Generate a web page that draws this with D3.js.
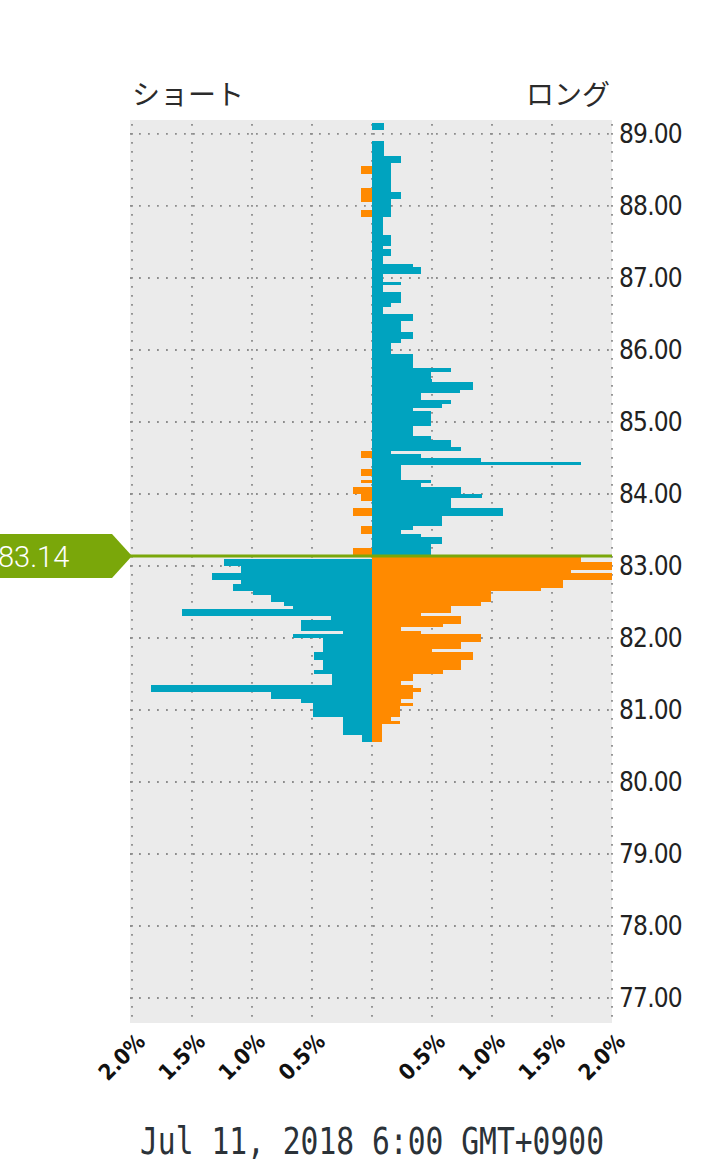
<!DOCTYPE html>
<html>
<head>
<meta charset="utf-8">
<script src="https://cdn.jsdelivr.net/npm/d3@7/dist/d3.min.js"></script>
<style>
  html, body { margin: 0; padding: 0; background: #fff; }
  svg { display: block; }
</style>
</head>
<body>
<script>
'use strict';

// order book buckets (lower bound of each 0.05 bucket), top to bottom
const prices = [
  89.10, 89.05, 89.00, 88.95, 88.90, 88.85, 88.80, 88.75, 88.70, 88.65,
  88.60, 88.55, 88.50, 88.45, 88.40, 88.35, 88.30, 88.25, 88.20, 88.15,
  88.10, 88.05, 88.00, 87.95, 87.90, 87.85, 87.80, 87.75, 87.70, 87.65,
  87.60, 87.55, 87.50, 87.45, 87.40, 87.35, 87.30, 87.25, 87.20, 87.15,
  87.10, 87.05, 87.00, 86.95, 86.90, 86.85, 86.80, 86.75, 86.70, 86.65,
  86.60, 86.55, 86.50, 86.45, 86.40, 86.35, 86.30, 86.25, 86.20, 86.15,
  86.10, 86.05, 86.00, 85.95, 85.90, 85.85, 85.80, 85.75, 85.70, 85.65,
  85.60, 85.55, 85.50, 85.45, 85.40, 85.35, 85.30, 85.25, 85.20, 85.15,
  85.10, 85.05, 85.00, 84.95, 84.90, 84.85, 84.80, 84.75, 84.70, 84.65,
  84.60, 84.55, 84.50, 84.45, 84.40, 84.35, 84.30, 84.25, 84.20, 84.15,
  84.10, 84.05, 84.00, 83.95, 83.90, 83.85, 83.80, 83.75, 83.70, 83.65,
  83.60, 83.55, 83.50, 83.45, 83.40, 83.35, 83.30, 83.25, 83.20, 83.15,
  83.10, 83.05, 83.00, 82.95, 82.90, 82.85, 82.80, 82.75, 82.70, 82.65,
  82.60, 82.55, 82.50, 82.45, 82.40, 82.35, 82.30, 82.25, 82.20, 82.15,
  82.10, 82.05, 82.00, 81.95, 81.90, 81.85, 81.80, 81.75, 81.70, 81.65,
  81.60, 81.55, 81.50, 81.45, 81.40, 81.35, 81.30, 81.25, 81.20, 81.15,
  81.10, 81.05, 81.00, 80.95, 80.90, 80.85, 80.80, 80.75, 80.70, 80.65,
  80.60, 80.55
];

// % of positions on the short side (drawn to the left)
const shortPct = [
  0, 0, 0, 0, 0, 0, 0, 0, 0, 0,
  0, 0, .09, .09, 0, 0, 0, 0, .09, .09,
  .09, .09, 0, 0, .09, .09, 0, 0, 0, 0,
  0, 0, 0, 0, 0, 0, 0, 0, 0, 0,
  0, 0, 0, 0, 0, 0, 0, 0, 0, 0,
  0, 0, 0, 0, 0, 0, 0, 0, 0, 0,
  0, 0, 0, 0, 0, 0, 0, 0, 0, 0,
  0, 0, 0, 0, 0, 0, 0, 0, 0, 0,
  0, 0, 0, 0, 0, 0, 0, 0, 0, 0,
  0, .09, .09, 0, 0, 0, .09, .09, 0, .09,
  0, .16, .16, .09, .09, 0, 0, .16, .16, 0,
  0, 0, .09, .09, 0, 0, 0, 0, .16, .16,
  0, 1.23, 1.23, 1.09, 1.09, 1.33, 1.33, 1.09, 1.16, 1.16,
  .99, .84, .84, .73, .66, 1.58, 1.58, .34, .59, .59,
  .59, .24, .66, .41, .41, .41, .41, .48, .48, .41,
  .41, .41, .48, .33, .33, .33, 1.84, 1.84, .84, .84,
  .59, .49, .49, .49, .49, .24, .24, .24, .24, .24,
  .08, .08
];

// % of positions on the long side (drawn to the right)
const longPct = [
  .10, .10, 0, 0, 0, .10, .10, .10, .10, .24,
  .24, .16, .16, .16, .16, .16, .16, .16, .16, .24,
  .24, .16, .16, .16, .16, .16, .09, .09, .09, .09,
  .09, .16, .16, .16, .09, .16, .16, .09, .09, .34,
  .41, .41, .09, .09, .24, .09, .09, .24, .24, .24,
  .16, .09, .09, .34, .34, .24, .24, .24, .34, .34,
  .24, .16, .16, .16, .34, .34, .34, .34, .66, .49,
  .49, .50, .84, .84, .73, .41, .41, .66, .58, .34,
  .49, .49, .49, .49, .34, .34, .34, .49, .66, .66,
  .74, .16, .41, .91, 1.74, .24, .24, .24, .24, .49,
  .41, .74, .74, .92, .66, .66, .66, 1.09, 1.09, .58,
  .58, .58, .34, .24, .41, .58, .58, .49, .49, .49,
  1.74, 1.74, 2.1, 2.1, 1.66, 2.1, 2.1, 1.59, 1.59, 1.41,
  .99, .99, .99, .91, .66, .66, .41, .74, .74, .59,
  .24, .41, .91, .91, .74, .74, .50, .84, .84, .74,
  .74, .74, .59, .34, .34, .24, .34, .41, .34, .34,
  .24, .34, .23, .23, .23, .16, .23, .08, .08, .08,
  .08, .08
];

const bucketSize = 0.05;
const currentPrice = 83.14;
const priceTicks = [89, 88, 87, 86, 85, 84, 83, 82, 81, 80, 79, 78, 77];
const pctTicks = [-2, -1.5, -1, -0.5, 0.5, 1, 1.5, 2];
const gridPct = [-2, -1.5, -1, -0.5, 0, 0.5, 1, 1.5, 2];
const sideLabels = ['ショート', 'ロング'];
const dateLabel = 'Jul 11, 2018 6:00 GMT+0900';

const blue = '#00a3bf';
const orange = '#ff8a00';
const green = '#7aa70a';

const svg = d3.select('body').append('svg')
  .attr('width', 721)
  .attr('height', 1165);

// plot area
const area = { left: 130, right: 612, top: 120, bottom: 1023 };

const x = d3.scaleLinear().domain([-2, 2]).range([132, 612]);
const y = d3.scaleLinear().domain([76.653, 89.194]).range([area.bottom, area.top]);

svg.append('rect')
  .attr('x', area.left)
  .attr('y', area.top)
  .attr('width', area.right - area.left)
  .attr('height', area.bottom - area.top)
  .attr('fill', '#ebebeb');

svg.append('clipPath').attr('id', 'clip')
  .append('rect')
  .attr('x', area.left)
  .attr('y', area.top)
  .attr('width', area.right - area.left)
  .attr('height', area.bottom - area.top);

// dotted grid
const grid = svg.append('g')
  .attr('stroke', '#8c8c8c')
  .attr('stroke-width', 1.8)
  .attr('stroke-dasharray', '1.8 7.2');

grid.selectAll('.hgrid')
  .data(priceTicks)
  .enter()
  .append('line')
    .attr('x1', area.left)
    .attr('x2', area.right)
    .attr('y1', (d) => y(d))
    .attr('y2', (d) => y(d));

grid.selectAll('.vgrid')
  .data(gridPct)
  .enter()
  .append('line')
    .attr('x1', (d) => x(d))
    .attr('x2', (d) => x(d))
    .attr('y1', area.top + 4)
    .attr('y2', area.bottom);

// bars
const rows = prices.map((p, i) => ({ price: p, short: shortPct[i], long: longPct[i] }));
const bars = svg.append('g').attr('clip-path', 'url(#clip)');

// above the price: long = blue, short = orange; below it is the reverse
function sideColor(d, side) {
  const above = d.price >= currentPrice;
  if (side === 'long') return above ? blue : orange;
  return above ? orange : blue;
}

bars.selectAll('.short')
  .data(rows.filter((d) => d.short > 0))
  .enter()
  .append('rect')
    .attr('x', (d) => x(-d.short))
    .attr('y', (d) => y(d.price + bucketSize))
    .attr('width', (d) => x(0) - x(-d.short) + 1)
    .attr('height', (d) => y(d.price) - y(d.price + bucketSize))
    .attr('fill', (d) => sideColor(d, 'short'))
    .attr('shape-rendering', 'crispEdges');

bars.selectAll('.long')
  .data(rows.filter((d) => d.long > 0))
  .enter()
  .append('rect')
    .attr('x', x(0))
    .attr('y', (d) => y(d.price + bucketSize))
    .attr('width', (d) => x(d.long) - x(0))
    .attr('height', (d) => y(d.price) - y(d.price + bucketSize))
    .attr('fill', (d) => sideColor(d, 'long'))
    .attr('shape-rendering', 'crispEdges');

// right price axis
const yAxis = d3.axisRight(y)
  .tickValues(priceTicks)
  .tickFormat(d3.format('.2f'))
  .tickSize(0)
  .tickPadding(7);

const yg = svg.append('g')
  .attr('transform', `translate(${area.right}, 0)`)
  .call(yAxis);
yg.select('.domain').remove();
yg.selectAll('text')
  .attr('fill', '#222')
  .style('font-family', '"DejaVu Sans Condensed", "DejaVu Sans", sans-serif')
  .style('font-size', '26px')
  .style('letter-spacing', '-0.8px');

// bottom % axis, labels rotated
const xAxis = d3.axisBottom(x)
  .tickValues(pctTicks)
  .tickFormat((d) => Math.abs(d).toFixed(1) + '%')
  .tickSize(0);

const xg = svg.append('g')
  .attr('transform', `translate(0, ${area.bottom})`)
  .call(xAxis);
xg.select('.domain').remove();
xg.selectAll('text')
  .attr('x', 14)
  .attr('y', 20)
  .attr('dy', 0)
  .attr('text-anchor', 'end')
  .attr('transform', 'rotate(-45, 14, 20)')
  .attr('fill', '#111')
  .style('font-family', '"DejaVu Sans Condensed", "DejaVu Sans", sans-serif')
  .style('font-weight', 'bold')
  .style('font-size', '22px');

// current price line and tag
const py = y(currentPrice);
svg.append('line')
  .attr('x1', area.left)
  .attr('x2', area.right)
  .attr('y1', py)
  .attr('y2', py)
  .attr('stroke', green)
  .attr('stroke-width', 3);

svg.append('path')
  .attr('d', `M-5,${py - 22}H112L132,${py}L112,${py + 22}H-5Z`)
  .attr('fill', green);

svg.append('text')
  .attr('x', -2)
  .attr('y', py + 11)
  .attr('fill', '#fff')
  .style('font-family', 'Roboto, sans-serif')
  .style('font-weight', 300)
  .style('font-size', '29px')
  .text(currentPrice.toFixed(2));

// side titles
svg.append('text')
  .attr('x', 132)
  .attr('y', 105)
  .attr('fill', '#2b2b2b')
  .style('font-family', '"Noto Sans CJK JP", sans-serif')
  .style('font-size', '28px')
  .text(sideLabels[0]);

svg.append('text')
  .attr('x', 610)
  .attr('y', 105)
  .attr('text-anchor', 'end')
  .attr('fill', '#2b2b2b')
  .style('font-family', '"Noto Sans CJK JP", sans-serif')
  .style('font-size', '28px')
  .text(sideLabels[1]);

// timestamp
svg.append('text')
  .attr('x', 372)
  .attr('y', 1154)
  .attr('text-anchor', 'middle')
  .attr('fill', '#2b3238')
  .attr('textLength', 464)
  .attr('lengthAdjust', 'spacingAndGlyphs')
  .style('font-family', '"DejaVu Sans Mono", monospace')
  .style('font-size', '37px')
  .text(dateLabel);
</script>
</body>
</html>
